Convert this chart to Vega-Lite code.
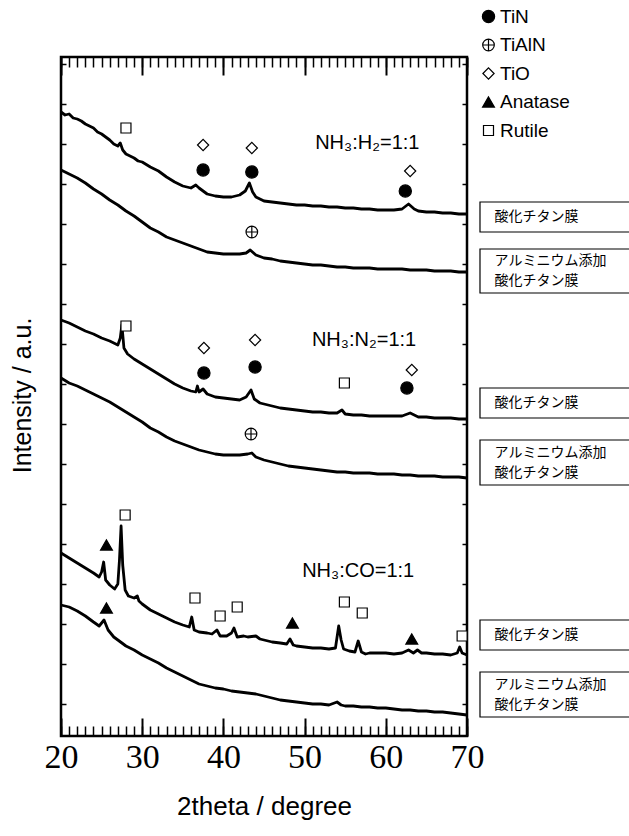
{
  "$schema": "https://vega.github.io/schema/vega-lite/v6.json",
  "autosize": {"type": "none"},
  "padding": {"left": 61, "top": 57, "right": 162, "bottom": 100},
  "width": 406,
  "height": 679,
  "background": "white",
  "config": {
    "view": {"stroke": "black", "strokeWidth": 2.5},
    "legend": {"orient": "none", "legendX": 418, "legendY": -50, "padding": 0, "labelFont": "Liberation Sans", "labelFontSize": 19, "labelColor": "black", "labelOffset": 2, "rowPadding": 8.5, "symbolStrokeColor": "black", "symbolStrokeWidth": 1.2, "titleFontSize": 0}
  },
  "resolve": {"axis": {"x": "independent", "y": "independent"}},
  "layer": [
    {
      "data": {"values": [
        {"film":"h1","deg":20,"inten":629},{"film":"h1","deg":20.5,"inten":626},{"film":"h1","deg":21,"inten":627},{"film":"h1","deg":21.5,"inten":623},{"film":"h1","deg":22,"inten":622},{"film":"h1","deg":22.5,"inten":620},{"film":"h1","deg":23,"inten":617},{"film":"h1","deg":23.5,"inten":615},{"film":"h1","deg":24,"inten":613},{"film":"h1","deg":24.5,"inten":609},{"film":"h1","deg":25,"inten":607},{"film":"h1","deg":25.5,"inten":604},{"film":"h1","deg":26,"inten":601},{"film":"h1","deg":26.5,"inten":597},{"film":"h1","deg":27,"inten":595},{"film":"h1","deg":27.3,"inten":598},{"film":"h1","deg":27.6,"inten":591},{"film":"h1","deg":28,"inten":587},{"film":"h1","deg":28.5,"inten":585},{"film":"h1","deg":29,"inten":583},{"film":"h1","deg":29.5,"inten":580},{"film":"h1","deg":30,"inten":579},{"film":"h1","deg":31,"inten":574},{"film":"h1","deg":32,"inten":570},{"film":"h1","deg":33,"inten":564},{"film":"h1","deg":34,"inten":559},{"film":"h1","deg":35,"inten":555},{"film":"h1","deg":36,"inten":553},{"film":"h1","deg":36.6,"inten":556},{"film":"h1","deg":37,"inten":553},{"film":"h1","deg":38,"inten":547},{"film":"h1","deg":39,"inten":545},{"film":"h1","deg":40,"inten":544},{"film":"h1","deg":41,"inten":544},{"film":"h1","deg":42,"inten":546},{"film":"h1","deg":42.7,"inten":550},{"film":"h1","deg":43.2,"inten":558},{"film":"h1","deg":43.6,"inten":549},{"film":"h1","deg":44,"inten":544},{"film":"h1","deg":45,"inten":540},{"film":"h1","deg":46,"inten":539},{"film":"h1","deg":47,"inten":538},{"film":"h1","deg":48,"inten":537},{"film":"h1","deg":49,"inten":536},{"film":"h1","deg":50,"inten":536},{"film":"h1","deg":51,"inten":535},{"film":"h1","deg":52,"inten":535},{"film":"h1","deg":53,"inten":534},{"film":"h1","deg":54,"inten":534},{"film":"h1","deg":55,"inten":533},{"film":"h1","deg":56,"inten":533},{"film":"h1","deg":57,"inten":532},{"film":"h1","deg":58,"inten":532},{"film":"h1","deg":59,"inten":531},{"film":"h1","deg":60,"inten":531},{"film":"h1","deg":61,"inten":531},{"film":"h1","deg":62,"inten":532},{"film":"h1","deg":62.8,"inten":537},{"film":"h1","deg":63.5,"inten":532},{"film":"h1","deg":64,"inten":530},{"film":"h1","deg":65,"inten":529},{"film":"h1","deg":66,"inten":529},{"film":"h1","deg":67,"inten":528},{"film":"h1","deg":68,"inten":528},{"film":"h1","deg":69,"inten":527},{"film":"h1","deg":70,"inten":527},

        {"film":"h2","deg":20,"inten":571},{"film":"h2","deg":21,"inten":567},{"film":"h2","deg":22,"inten":563},{"film":"h2","deg":23,"inten":558},{"film":"h2","deg":24,"inten":552},{"film":"h2","deg":25,"inten":547},{"film":"h2","deg":26,"inten":541},{"film":"h2","deg":27,"inten":536},{"film":"h2","deg":28,"inten":530},{"film":"h2","deg":29,"inten":525},{"film":"h2","deg":30,"inten":519},{"film":"h2","deg":31,"inten":513},{"film":"h2","deg":32,"inten":509},{"film":"h2","deg":33,"inten":504},{"film":"h2","deg":34,"inten":501},{"film":"h2","deg":35,"inten":498},{"film":"h2","deg":36,"inten":495},{"film":"h2","deg":37,"inten":492},{"film":"h2","deg":38,"inten":489},{"film":"h2","deg":39,"inten":488},{"film":"h2","deg":40,"inten":487},{"film":"h2","deg":41,"inten":487},{"film":"h2","deg":42,"inten":487},{"film":"h2","deg":42.8,"inten":488},{"film":"h2","deg":43.3,"inten":491},{"film":"h2","deg":44,"inten":486},{"film":"h2","deg":45,"inten":483},{"film":"h2","deg":46,"inten":482},{"film":"h2","deg":47,"inten":480},{"film":"h2","deg":48,"inten":479},{"film":"h2","deg":49,"inten":478},{"film":"h2","deg":50,"inten":477},{"film":"h2","deg":51,"inten":476},{"film":"h2","deg":52,"inten":476},{"film":"h2","deg":53,"inten":475},{"film":"h2","deg":54,"inten":474},{"film":"h2","deg":55,"inten":474},{"film":"h2","deg":56,"inten":473},{"film":"h2","deg":57,"inten":473},{"film":"h2","deg":58,"inten":473},{"film":"h2","deg":59,"inten":472},{"film":"h2","deg":60,"inten":472},{"film":"h2","deg":61,"inten":472},{"film":"h2","deg":62,"inten":472},{"film":"h2","deg":63,"inten":471},{"film":"h2","deg":64,"inten":471},{"film":"h2","deg":65,"inten":471},{"film":"h2","deg":66,"inten":470},{"film":"h2","deg":67,"inten":470},{"film":"h2","deg":68,"inten":470},{"film":"h2","deg":69,"inten":469},{"film":"h2","deg":70,"inten":469},

        {"film":"n1","deg":20,"inten":421},{"film":"n1","deg":21,"inten":418},{"film":"n1","deg":22,"inten":414},{"film":"n1","deg":23,"inten":410},{"film":"n1","deg":24,"inten":407},{"film":"n1","deg":25,"inten":403},{"film":"n1","deg":26,"inten":400},{"film":"n1","deg":27,"inten":396},{"film":"n1","deg":27.3,"inten":403},{"film":"n1","deg":27.5,"inten":416},{"film":"n1","deg":27.75,"inten":393},{"film":"n1","deg":28.2,"inten":387},{"film":"n1","deg":29,"inten":382},{"film":"n1","deg":30,"inten":377},{"film":"n1","deg":31,"inten":372},{"film":"n1","deg":32,"inten":367},{"film":"n1","deg":33,"inten":362},{"film":"n1","deg":34,"inten":357},{"film":"n1","deg":35,"inten":353},{"film":"n1","deg":36,"inten":350},{"film":"n1","deg":36.6,"inten":349},{"film":"n1","deg":36.8,"inten":355},{"film":"n1","deg":37,"inten":349},{"film":"n1","deg":37.5,"inten":352},{"film":"n1","deg":38,"inten":347},{"film":"n1","deg":39,"inten":344},{"film":"n1","deg":40,"inten":343},{"film":"n1","deg":41,"inten":342},{"film":"n1","deg":42,"inten":341},{"film":"n1","deg":42.8,"inten":344},{"film":"n1","deg":43.4,"inten":351},{"film":"n1","deg":43.8,"inten":342},{"film":"n1","deg":44.5,"inten":338},{"film":"n1","deg":45,"inten":337},{"film":"n1","deg":46,"inten":335},{"film":"n1","deg":47,"inten":333},{"film":"n1","deg":48,"inten":332},{"film":"n1","deg":49,"inten":331},{"film":"n1","deg":50,"inten":330},{"film":"n1","deg":51,"inten":329},{"film":"n1","deg":52,"inten":329},{"film":"n1","deg":53,"inten":328},{"film":"n1","deg":54,"inten":328},{"film":"n1","deg":54.6,"inten":331},{"film":"n1","deg":55,"inten":327},{"film":"n1","deg":56,"inten":326},{"film":"n1","deg":57,"inten":326},{"film":"n1","deg":58,"inten":325},{"film":"n1","deg":59,"inten":325},{"film":"n1","deg":60,"inten":325},{"film":"n1","deg":61,"inten":325},{"film":"n1","deg":62,"inten":325},{"film":"n1","deg":63,"inten":328},{"film":"n1","deg":64,"inten":324},{"film":"n1","deg":65,"inten":324},{"film":"n1","deg":66,"inten":323},{"film":"n1","deg":67,"inten":323},{"film":"n1","deg":68,"inten":323},{"film":"n1","deg":69,"inten":322},{"film":"n1","deg":70,"inten":322},

        {"film":"n2","deg":20,"inten":363},{"film":"n2","deg":21,"inten":358},{"film":"n2","deg":22,"inten":355},{"film":"n2","deg":23,"inten":351},{"film":"n2","deg":24,"inten":347},{"film":"n2","deg":25,"inten":343},{"film":"n2","deg":26,"inten":339},{"film":"n2","deg":27,"inten":334},{"film":"n2","deg":28,"inten":329},{"film":"n2","deg":29,"inten":324},{"film":"n2","deg":30,"inten":319},{"film":"n2","deg":31,"inten":313},{"film":"n2","deg":32,"inten":309},{"film":"n2","deg":33,"inten":304},{"film":"n2","deg":34,"inten":300},{"film":"n2","deg":35,"inten":297},{"film":"n2","deg":36,"inten":294},{"film":"n2","deg":37,"inten":291},{"film":"n2","deg":38,"inten":289},{"film":"n2","deg":39,"inten":287},{"film":"n2","deg":40,"inten":286},{"film":"n2","deg":41,"inten":286},{"film":"n2","deg":42,"inten":286},{"film":"n2","deg":43,"inten":287},{"film":"n2","deg":43.5,"inten":288},{"film":"n2","deg":44,"inten":284},{"film":"n2","deg":45,"inten":281},{"film":"n2","deg":46,"inten":279},{"film":"n2","deg":47,"inten":277},{"film":"n2","deg":48,"inten":275},{"film":"n2","deg":49,"inten":274},{"film":"n2","deg":50,"inten":273},{"film":"n2","deg":51,"inten":272},{"film":"n2","deg":52,"inten":271},{"film":"n2","deg":53,"inten":270},{"film":"n2","deg":54,"inten":269},{"film":"n2","deg":55,"inten":269},{"film":"n2","deg":56,"inten":268},{"film":"n2","deg":57,"inten":268},{"film":"n2","deg":58,"inten":268},{"film":"n2","deg":59,"inten":267},{"film":"n2","deg":60,"inten":267},{"film":"n2","deg":61,"inten":267},{"film":"n2","deg":62,"inten":266},{"film":"n2","deg":63,"inten":266},{"film":"n2","deg":64,"inten":265},{"film":"n2","deg":65,"inten":265},{"film":"n2","deg":66,"inten":265},{"film":"n2","deg":67,"inten":264},{"film":"n2","deg":68,"inten":264},{"film":"n2","deg":69,"inten":264},{"film":"n2","deg":70,"inten":263},

        {"film":"c1","deg":20,"inten":188},{"film":"c1","deg":21,"inten":183},{"film":"c1","deg":22,"inten":178},{"film":"c1","deg":23,"inten":173},{"film":"c1","deg":24,"inten":168},{"film":"c1","deg":24.7,"inten":164},{"film":"c1","deg":25,"inten":169},{"film":"c1","deg":25.25,"inten":179},{"film":"c1","deg":25.5,"inten":161},{"film":"c1","deg":26,"inten":156},{"film":"c1","deg":26.6,"inten":152},{"film":"c1","deg":27,"inten":157},{"film":"c1","deg":27.2,"inten":181},{"film":"c1","deg":27.4,"inten":215},{"film":"c1","deg":27.6,"inten":176},{"film":"c1","deg":27.9,"inten":151},{"film":"c1","deg":28.3,"inten":145},{"film":"c1","deg":29,"inten":143},{"film":"c1","deg":29.4,"inten":145},{"film":"c1","deg":29.6,"inten":140},{"film":"c1","deg":30,"inten":137},{"film":"c1","deg":31,"inten":131},{"film":"c1","deg":32,"inten":127},{"film":"c1","deg":33,"inten":123},{"film":"c1","deg":34,"inten":119},{"film":"c1","deg":35,"inten":116},{"film":"c1","deg":35.8,"inten":114},{"film":"c1","deg":36.1,"inten":124},{"film":"c1","deg":36.4,"inten":111},{"film":"c1","deg":37,"inten":109},{"film":"c1","deg":38,"inten":108},{"film":"c1","deg":38.6,"inten":107},{"film":"c1","deg":39.2,"inten":111},{"film":"c1","deg":39.6,"inten":105},{"film":"c1","deg":40.4,"inten":105},{"film":"c1","deg":41,"inten":108},{"film":"c1","deg":41.3,"inten":113},{"film":"c1","deg":41.7,"inten":104},{"film":"c1","deg":42.5,"inten":105},{"film":"c1","deg":43,"inten":104},{"film":"c1","deg":44,"inten":105},{"film":"c1","deg":44.5,"inten":102},{"film":"c1","deg":45,"inten":101},{"film":"c1","deg":46,"inten":99},{"film":"c1","deg":47,"inten":98},{"film":"c1","deg":47.8,"inten":97},{"film":"c1","deg":48.2,"inten":102},{"film":"c1","deg":48.6,"inten":96},{"film":"c1","deg":49,"inten":95},{"film":"c1","deg":50,"inten":94},{"film":"c1","deg":51,"inten":93},{"film":"c1","deg":52,"inten":93},{"film":"c1","deg":53,"inten":92},{"film":"c1","deg":53.8,"inten":93},{"film":"c1","deg":54.2,"inten":115},{"film":"c1","deg":54.5,"inten":101},{"film":"c1","deg":54.8,"inten":92},{"film":"c1","deg":55.5,"inten":90},{"film":"c1","deg":56.2,"inten":89},{"film":"c1","deg":56.6,"inten":100},{"film":"c1","deg":57,"inten":89},{"film":"c1","deg":57.5,"inten":87},{"film":"c1","deg":58,"inten":88},{"film":"c1","deg":59,"inten":88},{"film":"c1","deg":60,"inten":88},{"film":"c1","deg":61,"inten":87},{"film":"c1","deg":62,"inten":88},{"film":"c1","deg":62.8,"inten":91},{"film":"c1","deg":63.4,"inten":88},{"film":"c1","deg":63.9,"inten":91},{"film":"c1","deg":64.4,"inten":88},{"film":"c1","deg":65,"inten":88},{"film":"c1","deg":66,"inten":87},{"film":"c1","deg":67,"inten":87},{"film":"c1","deg":68,"inten":86},{"film":"c1","deg":68.8,"inten":88},{"film":"c1","deg":69.1,"inten":94},{"film":"c1","deg":69.4,"inten":88},{"film":"c1","deg":70,"inten":86},

        {"film":"c2","deg":20,"inten":136},{"film":"c2","deg":21,"inten":134},{"film":"c2","deg":22,"inten":130},{"film":"c2","deg":23,"inten":125},{"film":"c2","deg":24,"inten":119},{"film":"c2","deg":24.7,"inten":115},{"film":"c2","deg":25.3,"inten":121},{"film":"c2","deg":25.8,"inten":111},{"film":"c2","deg":26.5,"inten":104},{"film":"c2","deg":27,"inten":101},{"film":"c2","deg":28,"inten":95},{"film":"c2","deg":29,"inten":91},{"film":"c2","deg":30,"inten":86},{"film":"c2","deg":31,"inten":82},{"film":"c2","deg":32,"inten":78},{"film":"c2","deg":33,"inten":73},{"film":"c2","deg":34,"inten":69},{"film":"c2","deg":35,"inten":65},{"film":"c2","deg":36,"inten":61},{"film":"c2","deg":37,"inten":57},{"film":"c2","deg":38,"inten":55},{"film":"c2","deg":39,"inten":53},{"film":"c2","deg":40,"inten":52},{"film":"c2","deg":41,"inten":50},{"film":"c2","deg":42,"inten":49},{"film":"c2","deg":43,"inten":48},{"film":"c2","deg":44,"inten":47},{"film":"c2","deg":45,"inten":45},{"film":"c2","deg":46,"inten":43},{"film":"c2","deg":47,"inten":41},{"film":"c2","deg":48,"inten":40},{"film":"c2","deg":49,"inten":39},{"film":"c2","deg":50,"inten":38},{"film":"c2","deg":51,"inten":37},{"film":"c2","deg":52,"inten":37},{"film":"c2","deg":53,"inten":36},{"film":"c2","deg":54,"inten":39},{"film":"c2","deg":54.5,"inten":36},{"film":"c2","deg":55,"inten":35},{"film":"c2","deg":56,"inten":35},{"film":"c2","deg":57,"inten":34},{"film":"c2","deg":58,"inten":34},{"film":"c2","deg":59,"inten":33},{"film":"c2","deg":60,"inten":33},{"film":"c2","deg":61,"inten":32},{"film":"c2","deg":62,"inten":31},{"film":"c2","deg":63,"inten":31},{"film":"c2","deg":64,"inten":30},{"film":"c2","deg":65,"inten":30},{"film":"c2","deg":66,"inten":29},{"film":"c2","deg":67,"inten":29},{"film":"c2","deg":68,"inten":28},{"film":"c2","deg":69,"inten":27},{"film":"c2","deg":70,"inten":26}
      ]},
      "mark": {"type": "line", "color": "black", "strokeWidth": 2.8, "strokeJoin": "round"},
      "encoding": {
        "x": {"field": "deg", "type": "quantitative", "scale": {"domain": [20, 70], "nice": false, "zero": false},
          "axis": {"orient": "bottom", "values": [20, 30, 40, 50, 60, 70], "ticks": false, "domain": false, "grid": false, "labelFont": "Liberation Serif", "labelFontSize": 34, "labelPadding": 4, "labelColor": "black", "labelFlush": false, "labelOverlap": false, "title": "2theta / degree", "titleFont": "Liberation Sans", "titleFontSize": 26, "titleFontWeight": "normal", "titleColor": "black", "titleY": 78, "titleBaseline": "alphabetic"}},
        "y": {"field": "inten", "type": "quantitative", "scale": {"domain": [5, 684], "nice": false, "zero": false},
          "axis": {"orient": "left", "values": [37, 77, 117, 157, 197, 237, 277, 317, 357, 397, 437, 477, 517, 557, 597, 637, 677], "tickSize": -5, "tickWidth": 1.5, "tickColor": "black", "labels": false, "domain": false, "grid": false, "title": "Intensity / a.u.", "titleFont": "Liberation Sans", "titleFontSize": 25, "titleFontWeight": "normal", "titleColor": "black", "titleX": -39, "titleY": 338, "titleAngle": -90, "titleAlign": "center", "titleBaseline": "middle"}},
        "detail": {"field": "film", "type": "nominal"}
      }
    },
    {
      "data": {"values": [
        {"deg": 28.0, "inten": 613, "phase": "Rutile"},
        {"deg": 37.5, "inten": 596, "phase": "TiO"},
        {"deg": 43.5, "inten": 593, "phase": "TiO"},
        {"deg": 37.5, "inten": 571, "phase": "TiN"},
        {"deg": 43.5, "inten": 569, "phase": "TiN"},
        {"deg": 63.0, "inten": 570, "phase": "TiO"},
        {"deg": 62.4, "inten": 550, "phase": "TiN"},
        {"deg": 43.5, "inten": 509, "phase": "TiAlN"},
        {"deg": 28.0, "inten": 415, "phase": "Rutile"},
        {"deg": 37.6, "inten": 393, "phase": "TiO"},
        {"deg": 43.9, "inten": 401, "phase": "TiO"},
        {"deg": 37.6, "inten": 368, "phase": "TiN"},
        {"deg": 43.9, "inten": 374, "phase": "TiN"},
        {"deg": 54.9, "inten": 358, "phase": "Rutile"},
        {"deg": 63.2, "inten": 371, "phase": "TiO"},
        {"deg": 62.6, "inten": 353, "phase": "TiN"},
        {"deg": 43.4, "inten": 307, "phase": "TiAlN"},
        {"deg": 27.9, "inten": 226, "phase": "Rutile"},
        {"deg": 25.6, "inten": 196, "phase": "Anatase"},
        {"deg": 36.5, "inten": 143, "phase": "Rutile"},
        {"deg": 39.6, "inten": 125, "phase": "Rutile"},
        {"deg": 41.7, "inten": 134, "phase": "Rutile"},
        {"deg": 48.5, "inten": 118, "phase": "Anatase"},
        {"deg": 54.9, "inten": 139, "phase": "Rutile"},
        {"deg": 57.1, "inten": 128, "phase": "Rutile"},
        {"deg": 63.2, "inten": 102, "phase": "Anatase"},
        {"deg": 69.4, "inten": 105, "phase": "Rutile"},
        {"deg": 25.6, "inten": 133, "phase": "Anatase"}
      ]},
      "mark": {"type": "point", "filled": true, "strokeWidth": 1.2, "opacity": 1},
      "encoding": {
        "x": {"field": "deg", "type": "quantitative", "scale": {"domain": [20, 70], "nice": false, "zero": false},
          "axis": {"orient": "bottom", "values": [20, 30, 40, 50, 60, 70], "tickSize": -18, "tickWidth": 2, "tickColor": "black", "labels": false, "domain": false, "grid": false, "title": null}},
        "y": {"field": "inten", "type": "quantitative", "scale": {"domain": [5, 684], "nice": false, "zero": false},
          "axis": {"orient": "right", "values": [37, 77, 117, 157, 197, 237, 277, 317, 357, 397, 437, 477, 517, 557, 597, 637, 677], "tickSize": -5, "tickWidth": 1.5, "tickColor": "black", "labels": false, "domain": false, "grid": false, "title": null}},
        "shape": {"field": "phase", "type": "nominal", "title": null,
          "scale": {"domain": ["TiN", "TiAlN", "TiO", "Anatase", "Rutile"], "range": ["circle", "M-1,0A1,1,0,1,1,1,0A1,1,0,1,1,-1,0ZM-1,0L1,0M0,-1L0,1", "diamond", "triangle-up", "square"]},
          "legend": {"encode": {"symbols": {"update": {"stroke": {"value": "black"}, "strokeWidth": {"value": 1.2}}}}}},
        "fill": {"field": "phase", "type": "nominal", "title": null,
          "scale": {"domain": ["TiN", "TiAlN", "TiO", "Anatase", "Rutile"], "range": ["black", "white", "white", "black", "white"]}},
        "stroke": {"field": "phase", "type": "nominal", "title": null,
          "scale": {"domain": ["TiN", "TiAlN", "TiO", "Anatase", "Rutile"], "range": ["black", "black", "black", "black", "black"]}},
        "size": {"field": "phase", "type": "nominal", "title": null,
          "scale": {"type": "ordinal", "domain": ["TiN", "TiAlN", "TiO", "Anatase", "Rutile"], "range": [150, 135, 125, 140, 100]}}
      }
    },
    {
      "data": {"values": [
        {"deg": 51.3, "inten": 598, "label": "NH₃:H₂=1:1"},
        {"deg": 50.9, "inten": 401, "label": "NH₃:N₂=1:1"},
        {"deg": 49.7, "inten": 170, "label": "NH₃:CO=1:1"}
      ]},
      "mark": {"type": "text", "align": "left", "baseline": "middle", "font": "Liberation Sans", "fontSize": 20, "color": "black"},
      "encoding": {
        "x": {"field": "deg", "type": "quantitative", "scale": {"domain": [20, 70], "nice": false, "zero": false},
          "axis": {"orient": "bottom", "values": [20,21,22,23,24,25,26,27,28,29,30,31,32,33,34,35,36,37,38,39,40,41,42,43,44,45,46,47,48,49,50,51,52,53,54,55,56,57,58,59,60,61,62,63,64,65,66,67,68,69,70], "tickSize": -10, "tickWidth": 1.5, "tickColor": "black", "labels": false, "domain": false, "grid": false, "title": null}},
        "y": {"field": "inten", "type": "quantitative", "scale": {"domain": [5, 684], "nice": false, "zero": false}, "axis": null},
        "text": {"field": "label", "type": "nominal"}
      }
    },
    {
      "data": {"values": [
        {"x1": 71.6, "x2": 95, "y1": 509, "y2": 539},
        {"x1": 71.6, "x2": 95, "y1": 448, "y2": 492},
        {"x1": 71.6, "x2": 95, "y1": 323, "y2": 353},
        {"x1": 71.6, "x2": 95, "y1": 256, "y2": 301},
        {"x1": 71.6, "x2": 95, "y1": 91, "y2": 121},
        {"x1": 71.6, "x2": 95, "y1": 24, "y2": 69}
      ]},
      "mark": {"type": "rect", "fill": "white", "stroke": "black", "strokeWidth": 1.2},
      "encoding": {
        "x": {"field": "x1", "type": "quantitative", "scale": {"domain": [20, 70], "nice": false, "zero": false},
          "axis": {"orient": "top", "values": [20, 30, 40, 50, 60, 70], "tickSize": -18, "tickWidth": 2, "tickColor": "black", "labels": false, "domain": false, "grid": false, "title": null}},
        "x2": {"field": "x2"},
        "y": {"field": "y1", "type": "quantitative", "scale": {"domain": [5, 684], "nice": false, "zero": false}, "axis": null},
        "y2": {"field": "y2"}
      }
    },
    {
      "data": {"values": [
        {"tx": 73.4, "ty": 524, "t": "酸化チタン膜"},
        {"tx": 73.4, "ty": 480, "t": "アルミニウム添加"},
        {"tx": 73.4, "ty": 460, "t": "酸化チタン膜"},
        {"tx": 73.4, "ty": 338, "t": "酸化チタン膜"},
        {"tx": 73.4, "ty": 288.5, "t": "アルミニウム添加"},
        {"tx": 73.4, "ty": 268.5, "t": "酸化チタン膜"},
        {"tx": 73.4, "ty": 106, "t": "酸化チタン膜"},
        {"tx": 73.4, "ty": 56.5, "t": "アルミニウム添加"},
        {"tx": 73.4, "ty": 36.5, "t": "酸化チタン膜"}
      ]},
      "mark": {"type": "text", "align": "left", "baseline": "middle", "font": "Noto Sans CJK JP", "fontSize": 14, "color": "black"},
      "encoding": {
        "x": {"field": "tx", "type": "quantitative", "scale": {"domain": [20, 70], "nice": false, "zero": false},
          "axis": {"orient": "top", "values": [20,21,22,23,24,25,26,27,28,29,30,31,32,33,34,35,36,37,38,39,40,41,42,43,44,45,46,47,48,49,50,51,52,53,54,55,56,57,58,59,60,61,62,63,64,65,66,67,68,69,70], "tickSize": -10, "tickWidth": 1.5, "tickColor": "black", "labels": false, "domain": false, "grid": false, "title": null}},
        "y": {"field": "ty", "type": "quantitative", "scale": {"domain": [5, 684], "nice": false, "zero": false}, "axis": null},
        "text": {"field": "t", "type": "nominal"}
      }
    }
  ]
}
